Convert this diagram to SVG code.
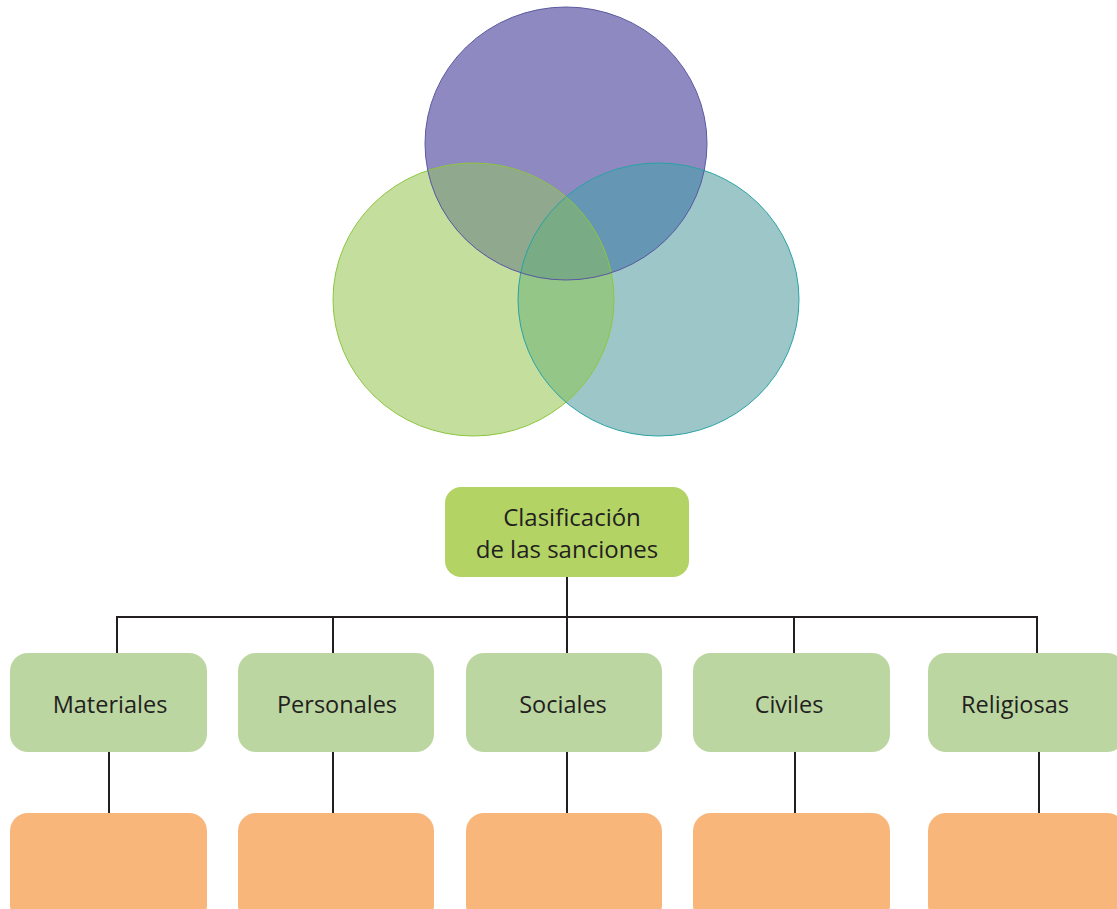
<svg xmlns="http://www.w3.org/2000/svg" xmlns:xlink="http://www.w3.org/1999/xlink" width="1117" height="909" viewBox="0 0 1117 909">
<style>
.lbl{font-family:"Open Sans","Noto Sans","Liberation Sans",sans-serif;font-size:23.5px;fill:#231f20;text-anchor:middle}
.big{font-size:24px}
.cat{fill:#bcd6a1}
.res{fill:#f9b67a}
.conn line{stroke:#231f20;stroke-width:2;fill:none}
</style>
<defs>
<ellipse id="eg" cx="473.5" cy="299.5" rx="140.5" ry="136.5"/>
<ellipse id="et" cx="658.5" cy="299.5" rx="140.5" ry="136.5"/>
<ellipse id="ep" cx="566" cy="143.5" rx="141" ry="136.5"/>
<clipPath id="cg"><use xlink:href="#eg"/></clipPath>
<clipPath id="ct"><use xlink:href="#et"/></clipPath>
</defs>
<rect width="1117" height="909" fill="#ffffff"/>
<g id="venn">
<use xlink:href="#eg" fill="#c3de9d"/>
<use xlink:href="#et" fill="#9cc6c8"/>
<use xlink:href="#ep" fill="#8e89c0"/>
<use xlink:href="#et" fill="#94c688" clip-path="url(#cg)"/>
<use xlink:href="#ep" fill="#8fa88e" clip-path="url(#cg)"/>
<use xlink:href="#ep" fill="#6596b4" clip-path="url(#ct)"/>
<g clip-path="url(#ct)"><use xlink:href="#ep" fill="#79ab85" clip-path="url(#cg)"/></g>
<use xlink:href="#eg" fill="none" stroke="#8dc63f" stroke-width="1"/>
<use xlink:href="#et" fill="none" stroke="#2aa3a5" stroke-width="1"/>
<use xlink:href="#ep" fill="none" stroke="#5a5aa0" stroke-width="1"/>
</g>
<g class="conn" id="connectors">
<line x1="567" y1="577" x2="567" y2="653"/>
<line x1="116" y1="617" x2="1038" y2="617"/>
<line x1="117" y1="617" x2="117" y2="653"/>
<line x1="333" y1="617" x2="333" y2="653"/>
<line x1="794" y1="617" x2="794" y2="653"/>
<line x1="1037" y1="617" x2="1037" y2="653"/>
<line x1="109" y1="752" x2="109" y2="813"/>
<line x1="333" y1="752" x2="333" y2="813"/>
<line x1="567" y1="752" x2="567" y2="813"/>
<line x1="795" y1="752" x2="795" y2="813"/>
<line x1="1039" y1="752" x2="1039" y2="813"/>
</g>
<g id="root">
<rect x="445" y="487" width="244" height="90" rx="16" fill="#b3d465"/>
<text class="lbl big" x="572" y="526">Clasificación</text>
<text class="lbl big" x="567" y="558">de las sanciones</text>
</g>
<g id="materiales"><rect class="cat" x="10" y="653" width="197" height="99" rx="18"/><text class="lbl" x="110" y="713">Materiales</text></g>
<g id="personales"><rect class="cat" x="238" y="653" width="196" height="99" rx="18"/><text class="lbl" x="337" y="713">Personales</text></g>
<g id="sociales"><rect class="cat" x="466" y="653" width="196" height="99" rx="18"/><text class="lbl" x="563" y="713">Sociales</text></g>
<g id="civiles"><rect class="cat" x="693" y="653" width="197" height="99" rx="18"/><text class="lbl" x="789" y="713">Civiles</text></g>
<g id="religiosas"><rect class="cat" x="928" y="653" width="197" height="99" rx="18"/><text class="lbl" x="1015" y="713">Religiosas</text></g>
<g id="res1"><rect class="res" x="10" y="813" width="197" height="110" rx="18"/></g>
<g id="res2"><rect class="res" x="238" y="813" width="196" height="110" rx="18"/></g>
<g id="res3"><rect class="res" x="466" y="813" width="196" height="110" rx="18"/></g>
<g id="res4"><rect class="res" x="693" y="813" width="197" height="110" rx="18"/></g>
<g id="res5"><rect class="res" x="928" y="813" width="197" height="110" rx="18"/></g>
</svg>
